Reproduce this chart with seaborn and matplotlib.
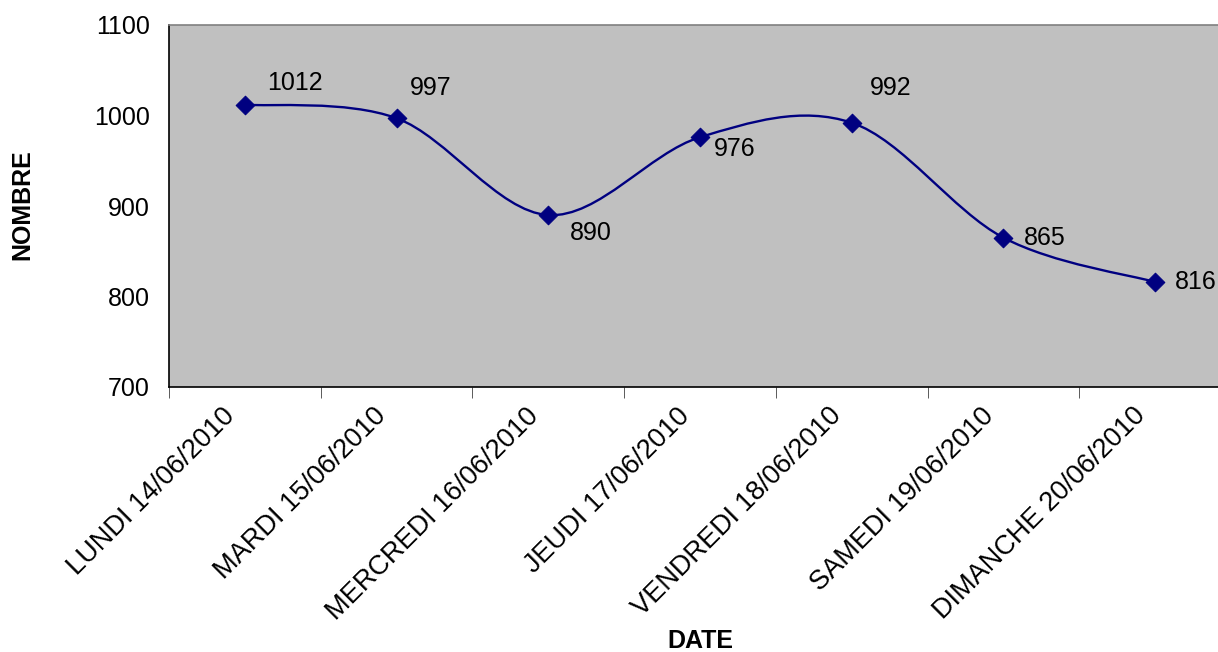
import numpy as np
import matplotlib
matplotlib.use("Agg")
import matplotlib.pyplot as plt
import matplotlib.transforms as mtransforms
from matplotlib.path import Path
from matplotlib.patches import PathPatch
import seaborn as sns

# data
dates = ["LUNDI 14/06/2010", "MARDI 15/06/2010", "MERCREDI 16/06/2010",
         "JEUDI 17/06/2010", "VENDREDI 18/06/2010", "SAMEDI 19/06/2010",
         "DIMANCHE 20/06/2010"]
counts = [1012, 997, 890, 976, 992, 865, 816]

# label offsets in pixels (style only)
label_offsets = [(50, 22), (34, 30), (43, -18), (35, -12), (39, 35), (41, 0), (41, 0)]

sns.set_style("white")
plt.rcParams['font.family'] = ['Liberation Sans', 'DejaVu Sans']
plt.rcParams['text.color'] = 'black'
plt.rcParams['axes.labelcolor'] = 'black'
plt.rcParams['xtick.color'] = 'black'
plt.rcParams['ytick.color'] = 'black'

FS = 18

fig = plt.figure(figsize=(12.18, 6.52), dpi=100)
ax = fig.add_axes([169 / 1218, 1 - 387 / 652, (1231 - 169) / 1218, (387 - 25) / 652])
ax.set_facecolor("#C0C0C0")

x = np.arange(len(dates))
y = np.array(counts, dtype=float)

# Excel-style smoothed line: cubic Bezier segments (Catmull-Rom control points)
pts = np.column_stack([x, y])
verts = [pts[0]]
codes = [Path.MOVETO]
n = len(pts)
for i in range(n - 1):
    p_prev = pts[max(i - 1, 0)]
    p0 = pts[i]
    p1 = pts[i + 1]
    p_next = pts[min(i + 2, n - 1)]
    c1 = p0 + (p1 - p_prev) / 6.0
    c2 = p1 - (p_next - p0) / 6.0
    verts += [c1, c2, p1]
    codes += [Path.CURVE4] * 3
ax.add_patch(PathPatch(Path(verts, codes), facecolor="none", edgecolor="#000080", lw=1.7, zorder=2))

sns.scatterplot(x=x, y=y, marker="D", s=90, color="#000080", edgecolor="#000080", ax=ax, zorder=3)

for xi, yi, (dx, dy) in zip(x, counts, label_offsets):
    ax.annotate(str(yi), (xi, yi), xytext=(dx * 0.72, dy * 0.72), textcoords="offset points",
                ha="center", va="center", fontsize=FS, color="black", annotation_clip=False)

ax.set_xlim(-0.5, len(dates) - 0.5)
ax.set_ylim(700, 1100)
ax.set_yticks([700, 800, 900, 1000, 1100])
ax.tick_params(axis="y", labelsize=FS, length=0, pad=14)

ax.set_xticks(x)
ax.set_xticklabels(dates, rotation=45, ha="right", va="center", rotation_mode="anchor", fontsize=19.5)
ax.tick_params(axis="x", which="major", length=0, pad=18)
shift = mtransforms.ScaledTranslation(-14 / 100, 0, fig.dpi_scale_trans)
for lab in ax.get_xticklabels():
    lab.set_transform(lab.get_transform() + shift)
ax.set_xticks(np.arange(len(dates) + 1) - 0.5, minor=True)
ax.tick_params(axis="x", which="minor", length=8, color="#404040", direction="out", bottom=True)

for side in ["left", "bottom"]:
    ax.spines[side].set_color("black")
    ax.spines[side].set_linewidth(1.2)
for side in ["top", "right"]:
    ax.spines[side].set_color("#808080")
    ax.spines[side].set_linewidth(1.2)

ax.set_xlabel("DATE", fontsize=FS, fontweight="bold", va="center")
ax.xaxis.set_label_coords((700 - 169) / (1231 - 169), -(641 - 387) / (387 - 25))
ax.set_ylabel("NOMBRE", fontsize=FS, fontweight="bold", va="center")
ax.yaxis.set_label_coords(-(169 - 22) / (1231 - 169), (387 - 205) / (387 - 25))

fig.savefig("out.png", dpi=100)
